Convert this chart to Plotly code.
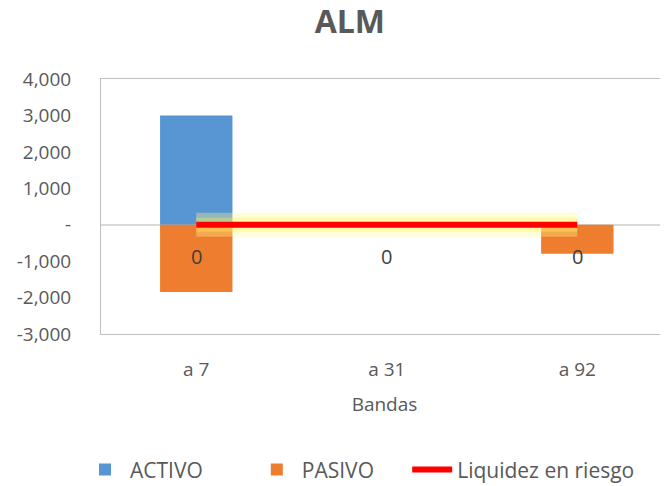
import plotly.graph_objects as go

categories = ["a 7", "a 31", "a 92"]
activo = [3000, 0, 0]
pasivo = [-1850, -60, -800]
liquidez = [0, 0, 0]

tick_vals = [4000, 3000, 2000, 1000, 0, -1000, -2000, -3000]
tick_text = ["4,000", "3,000", "2,000", "1,000", "-", "-1,000", "-2,000", "-3,000"]

font_family = "'Open Sans', sans-serif"
grey = "#595959"

fig = go.Figure()
fig.add_trace(go.Bar(x=categories, y=activo, name="ACTIVO", legend="legend",
                     marker=dict(color="#5896D3", line=dict(width=0)), width=0.38))
fig.add_trace(go.Bar(x=categories, y=pasivo, name="PASIVO", legend="legend2",
                     marker=dict(color="#EF7D2F", line=dict(width=0)), width=0.38))
# glow
fig.add_trace(go.Scatter(x=categories, y=liquidez, mode="lines", showlegend=False,
                         hoverinfo="skip",
                         line=dict(color="rgba(255,250,140,0.35)", width=24)))
fig.add_trace(go.Scatter(x=categories, y=liquidez, mode="lines", showlegend=False,
                         hoverinfo="skip",
                         line=dict(color="rgba(255,240,90,0.35)", width=14)))
fig.add_trace(go.Scatter(x=categories, y=liquidez, mode="lines", name="Liquidez en riesgo",
                         legend="legend3", line=dict(color="#FF0000", width=6)))

for c, v in zip(categories, liquidez):
    fig.add_annotation(x=c, y=v, text=f"{v:,}", showarrow=False, yshift=-32,
                       font=dict(size=20, color="#404040", family=font_family))

legend_common = dict(orientation="h", xanchor="left", y=-0.533, yanchor="middle",
                     font=dict(size=21, color=grey), itemwidth=40,
                     bgcolor="rgba(0,0,0,0)")

# the page body adds an 8px offset, so the figure is 8px smaller on each axis
fig.update_layout(
    width=660, height=478,
    barmode="relative",
    bargap=0.62,
    plot_bgcolor="white", paper_bgcolor="white",
    margin=dict(l=93, r=0, t=71, b=152, autoexpand=False),
    title=dict(text="<b>ALM</b>", x=0.518, xanchor="center", y=1.0, yanchor="top",
               yref="container", pad=dict(t=3),
               font=dict(size=32, color=grey, family=font_family), automargin=False),
    font=dict(family=font_family, size=19, color=grey),
    legend=dict(x=-0.037, **legend_common),
    legend2=dict(x=0.266, **legend_common),
    legend3=dict(x=0.54, **legend_common),
    showlegend=True,
)
fig.update_xaxes(title=dict(text="Bandas", font=dict(size=19, color=grey), standoff=16),
                 showline=True, linecolor="#BFBFBF", linewidth=1, mirror=True, automargin=False,
                 ticks="", ticklabelstandoff=18, tickfont=dict(size=19, color=grey),
                 range=[-0.5, 2.476])
fig.update_yaxes(range=[-3000, 4000], tickvals=tick_vals, ticktext=tick_text,
                 showgrid=False, zeroline=True, zerolinecolor="#D9D9D9", zerolinewidth=2,
                 showline=True, linecolor="#BFBFBF", linewidth=1, mirror=False, automargin=False,
                 ticks="", ticklabelstandoff=25, tickfont=dict(size=19, color=grey))

fig.write_html("out.html")
